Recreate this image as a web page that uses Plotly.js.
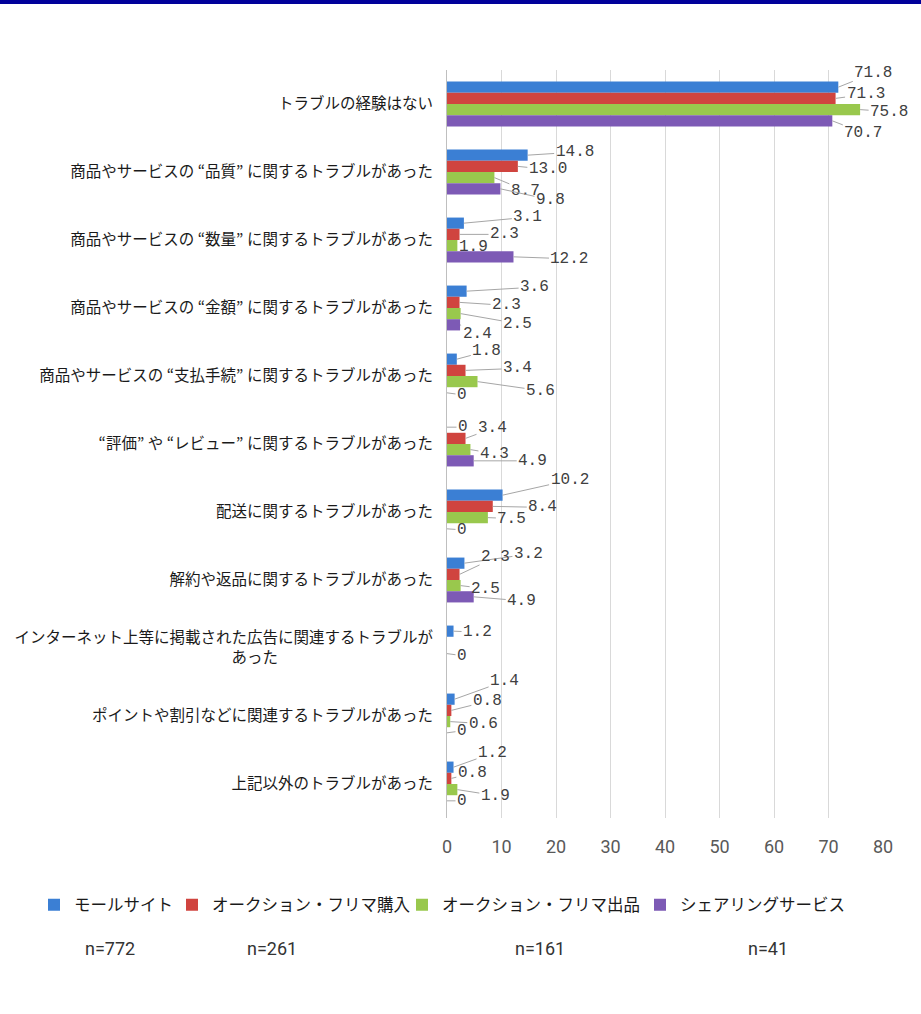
<!DOCTYPE html>
<html>
<head>
<meta charset="utf-8">
<script src="https://cdn.plot.ly/plotly-3.0.1.min.js"></script>
<style>
  html, body { margin: 0; padding: 0; background: #ffffff; }
  #topband { position: absolute; left: 0; top: 0; width: 921px; height: 4px; background: #00009a; z-index: 5; }
  #chart { width: 921px; height: 1014px; }
</style>
</head>
<body>
<div id="topband"></div>
<div id="chart"></div>
<script>
// ---- data ----
const categories = [
  "トラブルの経験はない",
  "商品やサービスの “品質” に関するトラブルがあった",
  "商品やサービスの “数量” に関するトラブルがあった",
  "商品やサービスの “金額” に関するトラブルがあった",
  "商品やサービスの “支払手続” に関するトラブルがあった",
  "“評価” や “レビュー” に関するトラブルがあった",
  "配送に関するトラブルがあった",
  "解約や返品に関するトラブルがあった",
  "インターネット上等に掲載された広告に関連するトラブルが<br>あった　　　　　　　　　　",
  "ポイントや割引などに関連するトラブルがあった",
  "上記以外のトラブルがあった"
];
const seriesNames = ["モールサイト", "オークション・フリマ購入", "オークション・フリマ出品", "シェアリングサービス"];
const mallSite      = [71.8, 14.8, 3.1, 3.6, 1.8, 0,   10.2, 3.2, 1.2, 1.4, 1.2];
const auctionBuy    = [71.3, 13.0, 2.3, 2.3, 3.4, 3.4, 8.4,  2.3, 0,   0.8, 0.8];
const auctionSell   = [75.8, 8.7,  1.9, 2.5, 5.6, 4.3, 7.5,  2.5, 0,   0.6, 1.9];
const sharing       = [70.7, 9.8,  12.2, 2.4, 0,  4.9, 0,    4.9, 0,   0,   0];
const sampleSizes   = ["n=772", "n=261", "n=161", "n=41"];
const xTicks        = [0, 10, 20, 30, 40, 50, 60, 70, 80];
// which data labels are shown (some overlapping zeros are hidden in the original)
const labelShown = [
  [1,1,1,1,1,1,1,1,1,1,1],
  [1,1,1,1,1,1,1,1,0,1,1],
  [1,1,1,1,1,1,1,1,1,1,1],
  [1,1,1,1,1,1,1,1,0,1,1]
];

// ---- styles / label placement (pixel offsets of each label from its bar end) ----
const colors = ["#3b7fd4", "#d0443f", "#99c84d", "#7d5ab5"];
const labelOffsets = [
  [[35,-14],[47,-3],[64,-6],[68,-4],[30,-8],[16,0],[67,-15],[64,-9],[24,1],[50,-18],[39,-14]],
  [[30,-4],[30,3],[45,0],[47,3],[52,-2],[27,-10],[50,1],[36,-17],[15,2],[36,-9],[21,-5]],
  [[29,2],[31,13],[16,1],[57,10],[63,9],[24,4],[24,1],[25,3],[15,2],[33,2],[38,6]],
  [[31,12],[50,11],[56,2],[17,9],[15,2],[59,0],[15,1],[48,4],[15,0],[15,-2],[15,0]]
];
const bargap = 0.34;
const allSeries = [mallSite, auctionBuy, auctionSell, sharing];
const legendIds = ["legend", "legend2", "legend3", "legend4"];
const legendTextX = [74, 212, 442, 680];   // px where each legend text begins

const plotL = 447, plotR = 883, plotT = 70, plotB = 818;
const pxToPaperX = px => (px - plotL) / (plotR - plotL);
const pxToPaperY = py => (plotB - py) / (plotB - plotT);

const traces = allSeries.map((vals, i) => ({
  type: "bar",
  orientation: "h",
  name: seriesNames[i],
  x: vals,
  y: categories,
  marker: { color: colors[i] },
  legend: legendIds[i]
}));

const annotations = [];
const nS = allSeries.length;
allSeries.forEach((vals, i) => {
  vals.forEach((v, k) => {
    if (!labelShown[i][k]) return;
    const off = labelOffsets[i][k];
    annotations.push({
      x: v,
      y: k + (i - (nS - 1) / 2) * (1 - bargap) / nS,
      xref: "x", yref: "y",
      text: v === 0 ? "0" : v.toFixed(1),
      showarrow: true,
      arrowhead: 0, arrowwidth: 1, arrowcolor: "#a6a6a6",
      standoff: 0, startstandoff: 0,
      ax: off[0], ay: off[1],
      font: { family: "Liberation Mono, DejaVu Sans Mono, monospace", size: 16, color: "#404040" }
    });
  });
});

// sample-size notes under the legend
const nPos = [110, 272, 540, 768];
sampleSizes.forEach((t, i) => {
  annotations.push({
    x: pxToPaperX(nPos[i]), y: pxToPaperY(948),
    xref: "paper", yref: "paper",
    text: t, showarrow: false, xanchor: "center", yanchor: "middle",
    font: { family: "Liberation Sans Narrow, Roboto, Arial, sans-serif", size: 18, color: "#333333" }
  });
});

const layout = {
  width: 921, height: 1014,
  margin: { l: plotL, r: 921 - plotR, t: plotT, b: 1014 - plotB, pad: 0 },
  paper_bgcolor: "#ffffff", plot_bgcolor: "#ffffff",
  barmode: "group",
  bargap: bargap, bargroupgap: 0,
  showlegend: true,
  xaxis: {
    range: [0, 80],
    tickvals: xTicks,
    ticktext: xTicks.map(String),
    showgrid: true, gridcolor: "#d9d9d9", gridwidth: 1,
    zeroline: false, showline: false,
    ticks: "", ticklabelstandoff: 16,
    tickfont: { family: "Liberation Sans Narrow, Roboto, Arial, sans-serif", size: 18, color: "#595959" },
    fixedrange: true
  },
  yaxis: {
    type: "category",
    autorange: "reversed",
    showgrid: false, zeroline: false,
    showline: true, linecolor: "#bfbfbf", linewidth: 1,
    ticks: "", ticklabelstandoff: 10,
    tickfont: { family: "Noto Sans CJK JP, sans-serif", size: 15.5, color: "#1a1a1a" },
    fixedrange: true
  },
  annotations: annotations,
  hovermode: false
};
legendIds.forEach((id, i) => {
  layout[id] = {
    orientation: "h",
    x: pxToPaperX(legendTextX[i] - 40), xanchor: "left",
    y: pxToPaperY(905), yanchor: "middle",
    font: { family: "Noto Sans CJK JP, sans-serif", size: 16.5, color: "#1a1a1a" },
    itemwidth: 30, borderwidth: 0,
    bgcolor: "rgba(0,0,0,0)"
  };
});

Plotly.newPlot("chart", traces, layout, { displayModeBar: false, staticPlot: true });
</script>
</body>
</html>
